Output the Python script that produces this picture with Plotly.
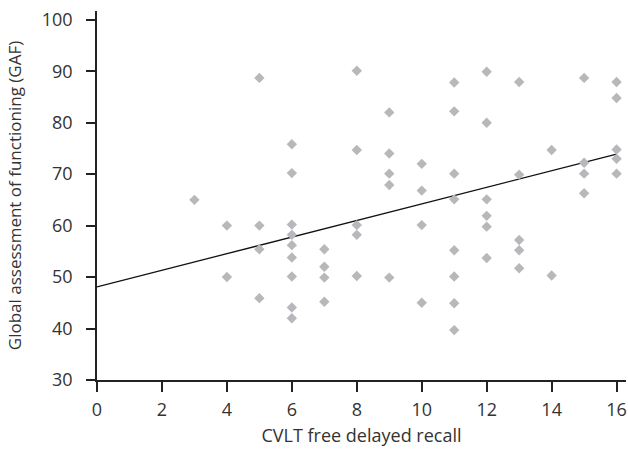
import plotly.graph_objects as go

# CVLT free delayed recall scores and GAF scores
cvlt = (
    [3]
    + [4] * 2
    + [5] * 4
    + [6] * 9
    + [7] * 4
    + [8] * 5
    + [9] * 5
    + [10] * 4
    + [11] * 8
    + [12] * 6
    + [13] * 5
    + [14] * 2
    + [15] * 4
    + [16] * 5
)
gaf = [
    65.0,
    60.0, 50.0,
    88.7, 60.0, 55.4, 45.9,
    75.8, 70.2, 60.2, 58.2, 56.2, 53.8, 50.1, 44.1, 42.0,
    55.4, 52.0, 49.9, 45.2,
    90.1, 74.7, 60.1, 58.2, 50.2,
    82.0, 74.0, 70.1, 67.9, 49.9,
    72.0, 66.8, 60.1, 45.0,
    87.8, 82.2, 70.1, 65.1, 55.2, 50.1, 44.9, 39.7,
    89.9, 80.0, 65.1, 61.9, 59.8, 53.7,
    87.9, 69.9, 57.2, 55.2, 51.7,
    74.7, 50.3,
    88.7, 72.2, 70.1, 66.3,
    87.9, 84.8, 74.8, 73.0, 70.1,
]

# Regression line end points
fit_x = [0, 16]
fit_y = [48.1, 73.9]

x_ticks = [0, 2, 4, 6, 8, 10, 12, 14, 16]
y_ticks = [30, 40, 50, 60, 70, 80, 90, 100]

FONT = "Open Sans"
TXT = "#333333"

fig = go.Figure()
fig.add_trace(go.Scatter(
    x=fit_x, y=fit_y, mode="lines",
    line=dict(color="#111111", width=1.3),
    hoverinfo="skip", showlegend=False,
))
fig.add_trace(go.Scatter(
    x=cvlt, y=gaf, mode="markers",
    marker=dict(symbol="diamond", size=8, color="#b8b8bc", line=dict(width=0)),
    showlegend=False,
))

fig.update_layout(
    width=628, height=450,
    margin=dict(l=97, r=2, t=11, b=70),
    paper_bgcolor="white", plot_bgcolor="white",
    font=dict(family=FONT, size=17, color=TXT),
)
fig.update_xaxes(
    range=[0, 16.29], automargin=False,
    tickvals=x_ticks, ticktext=[str(v) for v in x_ticks],
    showgrid=False, zeroline=False,
    showline=True, linecolor="#222222", linewidth=1.5,
    ticks="outside", ticklen=10, tickwidth=1.5, tickcolor="#222222",
    tickfont=dict(family=FONT, size=18, color=TXT),
    ticklabelstandoff=3,
    title=dict(text="CVLT free delayed recall", standoff=9,
               font=dict(family=FONT, size=18, color=TXT)),
)
fig.update_yaxes(
    range=[30, 101.7], automargin=False,
    tickvals=y_ticks, ticktext=[str(v) for v in y_ticks],
    showgrid=False, zeroline=False,
    showline=True, linecolor="#222222", linewidth=1.5,
    ticks="outside", ticklen=9, tickwidth=1.5, tickcolor="#222222",
    tickfont=dict(family=FONT, size=18, color=TXT),
    ticklabelstandoff=10,
    title=dict(text="Global assessment of functioning (GAF)", standoff=16,
               font=dict(family=FONT, size=17, color=TXT)),
)

fig.write_html(
    "out.html",
    config={"displayModeBar": False},
    post_script="document.body.style.margin='0';document.body.style.overflow='hidden';",
)
